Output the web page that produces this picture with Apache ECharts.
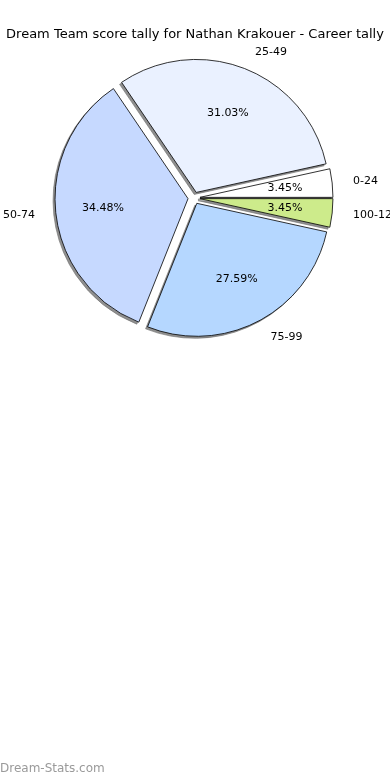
<!DOCTYPE html>
<html>
<head>
<meta charset="utf-8">
<script src="https://cdn.jsdelivr.net/npm/echarts@6/dist/echarts.min.js"></script>
<style>html,body{margin:0;padding:0;background:#fff}#c{width:390px;height:780px}</style>
</head>
<body>
<div id="c"></div>
<script>
const titleText = 'Dream Team score tally for Nathan Krakouer - Career tally';
const categories = ['0-24', '25-49', '50-74', '75-99', '100-124'];
const counts = [1, 9, 10, 8, 1];
const sliceColors = ['#ffffff', '#eaf1ff', '#c6d9ff', '#b5d7ff', '#cdeb8b'];
const watermark = 'Dream-Stats.com';

const chart = echarts.init(document.getElementById('c'));
const mainData = categories.map((c, i) => ({name: c, value: counts[i], selected: true, itemStyle: {color: sliceColors[i]}}));
const plainData = categories.map((c, i) => ({name: c, value: counts[i], selected: true}));
const cx = 194, cy = 198, R = 133;
const font = 'DejaVu Sans';
const common = {type: 'pie', startAngle: 0, clockwise: false, selectedMode: 'multiple', selectedOffset: 6,
  avoidLabelOverlap: false, silent: true, emphasis: {disabled: true}};
chart.setOption({
  animation: false,
  title: {text: titleText, left: 'center', top: 22, textStyle: {fontFamily: font, fontSize: 13, fontWeight: 'normal', color: '#000', lineHeight: 16}},
  graphic: [{type: 'text', left: 0, top: 763, style: {text: watermark, fontFamily: font, fontSize: 12, fontWeight: 'normal', fill: '#9a9a9a'}}],
  series: [
    Object.assign({}, common, {
      center: [cx - 2, cy + 2], radius: [0, R], z: 1,
      itemStyle: {color: '#8f8f8f', borderColor: '#6f6f6f', borderWidth: 0.6},
      label: {show: false}, labelLine: {show: false},
      data: plainData
    }),
    Object.assign({}, common, {
      center: [cx, cy], radius: [0, R], z: 2,
      itemStyle: {borderColor: '#000', borderWidth: 0.8},
      label: {show: true, position: 'outside', formatter: '{b}', fontFamily: font, fontSize: 11, color: '#000', distanceToLabelLine: 3},
      labelLine: {show: false, length: 18, length2: 0},
      data: mainData
    }),
    Object.assign({}, common, {
      center: [cx, cy], radius: [0, 2 * 0.62 * R], z: 5, percentPrecision: 2,
      itemStyle: {color: 'rgba(0,0,0,0)', borderWidth: 0},
      label: {show: true, position: 'inside', formatter: '{d}%', fontFamily: font, fontSize: 11, color: '#000'},
      labelLine: {show: false},
      data: plainData
    })
  ]
});
</script>
</body>
</html>
